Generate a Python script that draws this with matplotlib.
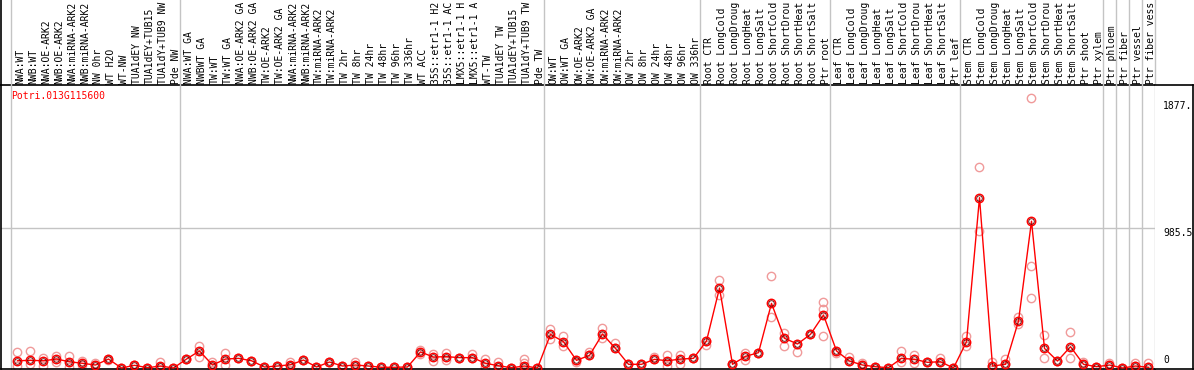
import matplotlib
matplotlib.use("Agg")
import matplotlib.pyplot as plt
from matplotlib.transforms import blended_transform_factory

# sample labels (as visible, cut at the top of the image)
labels_nw = ["NWA:WT", "NWB:WT", "NWA:OE-ARK2", "NWB:OE-ARK2", "NWA:miRNA-ARK2",
             "NWB:miRNA-ARK2", "NW 0hr", "WT H2O", "WT-NW", "TUA1dEY NW",
             "TUA1dEY+TUB15", "TUA1dY+TUB9 NW", "Pde NW"]
labels_tw = ["NWA:WT GA", "NWBWT GA", "TW:WT", "TW:WT GA", "NWA:OE-ARK2 GA",
             "NWB:OE-ARK2 GA", "TW:OE-ARK2", "TW:OE-ARK2 GA", "NWA:miRNA-ARK2",
             "NWB:miRNA-ARK2", "TW:miRNA-ARK2", "TW:miRNA-ARK2", "TW 2hr", "TW 8hr",
             "TW 24hr", "TW 48hr", "TW 96hr", "TW 336hr", "WT ACC", "35S::etr1-1 H2",
             "35S::etr1-1 AC", "LMX5::etr1-1 H", "LMX5::etr1-1 A", "WT-TW",
             "TUA1dEY TW", "TUA1dEY+TUB15", "TUA1dY+TUB9 TW", "Pde TW"]
labels_ow = ["OW:WT", "OW:WT GA", "OW:OE-ARK2", "OW:OE-ARK2 GA", "OW:miRNA-ARK2",
             "OW:miRNA-ARK2", "OW 2hr", "OW 8hr", "OW 24hr", "OW 48hr", "OW 96hr",
             "OW 336hr"]
labels_root = ["Root CTR", "Root LongCold", "Root LongDroug", "Root LongHeat",
               "Root LongSalt", "Root ShortCold", "Root ShortDrou", "Root ShortHeat",
               "Root ShortSalt", "Ptr root"]
labels_leaf = ["Leaf CTR", "Leaf LongCold", "Leaf LongDroug", "Leaf LongHeat",
               "Leaf LongSalt", "Leaf ShortCold", "Leaf ShortDrou", "Leaf ShortHeat",
               "Leaf ShortSalt", "Ptr leaf"]
labels_stem = ["Stem CTR", "Stem LongCold", "Stem LongDroug", "Stem LongHeat",
               "Stem LongSalt", "Stem ShortCold", "Stem ShortDrou", "Stem ShortHeat",
               "Stem ShortSalt", "Ptr shoot", "Ptr xylem"]
labels_ptr = ["Ptr phloem", "Ptr fiber", "Ptr vessel", "Ptr fiber vess"]

groups = [labels_nw, labels_tw, labels_ow, labels_root, labels_leaf, labels_stem,
          ["Ptr phloem"], ["Ptr fiber"], ["Ptr vessel"], ["Ptr fiber vess"]]
labels = labels_nw + labels_tw + labels_ow + labels_root + labels_leaf + labels_stem + labels_ptr

# mean expression per sample
means = [51, 54, 51, 63, 44, 33, 21, 63, 0, 19, 2, 14, 0,
         63, 120, 21, 63, 68, 51, 7, 14, 23, 56, 7, 42, 14, 21, 14, 5, 5, 7,
         113, 77, 80, 73, 73, 33, 16, 2, 14, 0,
         237, 185, 54, 89, 239, 138, 26, 26, 61, 51, 63, 68,
         190, 563, 26, 82, 108, 455, 209, 169, 237, 373,
         120, 49, 21, 9, 2, 68, 61, 40, 44, 0,
         185, 1199, 14, 26, 331, 1033, 138, 49, 150, 26, 9,
         21, 0, 14, 5]
# replicates
rep1 = [113, 120, 68, 84, 84, 47, 37, 56, 0, 19, 2, 44, 0,
        63, 157, 44, 108, 68, 51, 7, 14, 42, 56, 7, 42, 14, 42, 14, 5, 5, 7,
        127, 101, 108, 73, 101, 63, 44, 2, 61, 0,
        272, 225, 44, 115, 279, 174, 26, 26, 75, 89, 89, 68,
        162, 620, 26, 108, 108, 648, 244, 115, 237, 462,
        108, 75, 37, 9, 2, 122, 92, 40, 68, 0,
        225, 1413, 44, 61, 357, 1899, 230, 49, 251, 44, 9,
        37, 0, 37, 33]
rep2 = [14, 26, 14, 44, 5, 21, 21, 63, 0, 19, 2, 5, 0,
        63, 80, 5, 19, 68, 51, 7, 14, 14, 56, 7, 42, 14, 14, 14, 5, 5, 7,
        99, 51, 56, 73, 73, 5, 5, 2, 37, 0,
        202, 157, 54, 89, 209, 138, 26, 26, 61, 14, 28, 68,
        190, 514, 26, 56, 108, 361, 155, 169, 237, 225,
        120, 49, 21, 9, 2, 44, 33, 40, 44, 0,
        157, 967, 14, 26, 310, 718, 68, 49, 73, 26, 9,
        21, 0, 14, 5]
rep3_idx = [62, 78]
rep3_val = [418, 491]

y_ticks = [1877, 985.5, 0]
y_tick_text = ["1877.", "985.5", "0"]
gene = "Potri.013G115600"

W, H = 1194, 370
fig = plt.figure(figsize=(W / 100, H / 100), dpi=100)
mono = "DejaVu Sans Mono"
grey = "#c4c4c4"


def rect(x0, y0, x1, y1):
    # pixel box (top-left origin) -> figure fraction
    return [x0 / W, (H - y1) / H, (x1 - x0) / W, (y1 - y0) / H]


slot = 13.0
xmin = (1 - 17.5) / slot
xmax = (1155 - 17.5) / slot

ax = fig.add_axes(rect(1, 85, 1155, 369))
ax.set_xlim(xmin, xmax)
ax.set_ylim(-7, 1992)
ax.spines["right"].set_visible(False)
for s in ["left", "top", "bottom"]:
    ax.spines[s].set_linewidth(1.2)
ax.set_xticks([])
ax.set_yticks([])

lab = fig.add_axes(rect(1, 0, 1155, 85))
lab.set_xlim(xmin, xmax)
lab.set_ylim(0, 1)
lab.axis("off")
lab.axvline(xmin, color="black", lw=1.2, clip_on=False)

# group separators
bounds = [-0.5]
n = 0
for g in groups:
    n += len(g)
    bounds.append(n - 0.5)
for b in bounds:
    ax.axvline(b, color=grey, lw=1, clip_on=False, zorder=1)
    lab.axvline(b, color=grey, lw=1, clip_on=False, zorder=1)
ax.axhline(y_ticks[1], color=grey, lw=1, zorder=1)

xs = list(range(len(labels)))
for i, t in enumerate(labels):
    lab.text(i + 0.2, 0.015, t, rotation=90, ha="center", va="bottom",
             fontsize=7, family=mono, color="black")

# replicates
ax.plot(xs, rep1, "o", ms=6, mfc="none", mec="#f09a9a", mew=1.0, zorder=2)
ax.plot(xs, rep2, "o", ms=6, mfc="none", mec="#f09a9a", mew=1.0, zorder=2)
ax.plot(rep3_idx, rep3_val, "o", ms=6, mfc="none", mec="#f09a9a", mew=1.0, zorder=2)

# mean line
ax.plot(xs, means, "-", color="red", lw=1.0, zorder=3)
ax.plot(xs, means, "o", ms=6, mfc="none", mec="red", mew=1.1, zorder=4)
ax.plot(xs, means, "o", ms=4, mfc="none", mec="#600000", mew=0.6, zorder=5)

ax.text(10 / 1154, 1 - 11 / 284, gene, transform=ax.transAxes, color="red",
        fontsize=7, family=mono, ha="left", va="center")

# right-hand value labels
side = fig.add_axes(rect(1155, 85, 1193, 369))
side.set_xlim(0, 1)
side.set_ylim(ax.get_ylim())
side.set_xticks([])
side.set_yticks([])
side.spines["left"].set_visible(False)
for s in ["top", "bottom", "right"]:
    side.spines[s].set_linewidth(1.2)
tr = blended_transform_factory(side.transAxes, ax.transData)
for v, t in zip(y_ticks, y_tick_text):
    va = "bottom" if v == 0 else "top"
    side.text(8 / 38, v if v else 20, t, transform=tr, ha="left", va=va,
              fontsize=7, family=mono, color="black")

fig.savefig("out.png", dpi=100)
